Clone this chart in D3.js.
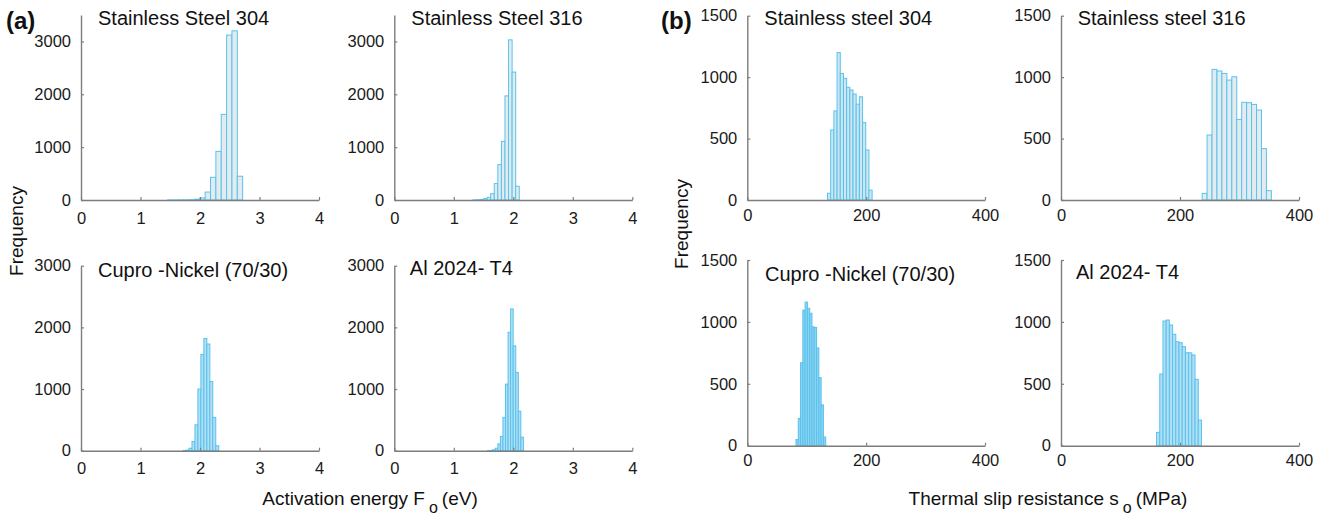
<!DOCTYPE html>
<html>
<head>
<meta charset="utf-8">
<script src="https://cdn.jsdelivr.net/npm/d3@7"></script>
<style>
  html, body { margin: 0; padding: 0; background: #fff; }
  svg { display: block; font-family: "Liberation Sans", Arial, Helvetica, sans-serif; }
</style>
</head>
<body>
<svg id="chart" width="1325" height="516"></svg>
<script>
// ---------------- DATA ----------------
const energyTicks = [0, 1, 2, 3, 4];
const slipTicks = [0, 200, 400];
const freqTicksEnergy = [0, 1000, 2000, 3000];
const freqTicksSlip = [0, 500, 1000, 1500];

const materials = ["Stainless Steel 304", "Stainless Steel 316", "Cupro -Nickel (70/30)", "Al 2024- T4"];
const materialsSlip = ["Stainless steel 304", "Stainless steel 316", "Cupro -Nickel (70/30)", "Al 2024- T4"];

// (a) Activation energy histograms (eV): first bin edge, bin width, counts
const ss304EnergyStart = 1.457, ss304EnergyWidth = 0.09;
const ss304EnergyCounts = [1, 1, 2, 3, 6, 15, 40, 150, 430, 920, 1620, 3120, 3200, 450];
const ss316EnergyStart = 1.32, ss316EnergyWidth = 0.06;
const ss316EnergyCounts = [2, 5, 10, 25, 50, 120, 310, 670, 1110, 1970, 3030, 2420, 260];
const cuniEnergyStart = 1.715, cuniEnergyWidth = 0.05;
const cuniEnergyCounts = [3, 10, 40, 150, 420, 1000, 1560, 1820, 1730, 1120, 540, 80];
const alEnergyStart = 1.568, alEnergyWidth = 0.043;
const alEnergyCounts = [2, 5, 15, 40, 110, 230, 540, 1080, 1920, 2300, 1700, 1270, 640, 220];

// (b) Thermal slip resistance histograms (MPa)
const ss304SlipStart = 135, ss304SlipWidth = 5.36;
const ss304SlipCounts = [55, 570, 725, 1200, 1030, 990, 917, 895, 862, 780, 840, 630, 407, 80];
const ss316SlipStart = 237.2, ss316SlipWidth = 8.31;
const ss316SlipCounts = [54, 529, 1063, 1050, 1030, 976, 1003, 656, 795, 792, 778, 732, 418, 76];
const cuniSlipStart = 81.9, cuniSlipWidth = 3.85;
const cuniSlipCounts = [50, 220, 670, 1095, 1160, 1110, 1070, 960, 955, 790, 550, 330, 70];
const alSlipStart = 160.6, alSlipWidth = 5.39;
const alSlipCounts = [108, 579, 1007, 1015, 975, 900, 840, 832, 800, 751, 750, 733, 536, 207];

// ---------------- LAYOUT ----------------
const svg = d3.select("#chart");
const STROKE = "#56c3ee";
const AXIS = "#7d7d7d";

const panels = [
  {title: materials[0], start: ss304EnergyStart, width: ss304EnergyWidth, counts: ss304EnergyCounts,
   x0: 81, x1: 319, yTop: 15, yBot: 200, xDom: [0, 4], yDom: [0, 3500], xt: energyTicks, yt: freqTicksEnergy,
   fill: "#e4ebef", tdx: 17, tby: 25, xpad: 12},
  {title: materials[1], start: ss316EnergyStart, width: ss316EnergyWidth, counts: ss316EnergyCounts,
   x0: 394.3, x1: 632.3, yTop: 15, yBot: 200, xDom: [0, 4], yDom: [0, 3500], xt: energyTicks, yt: freqTicksEnergy,
   fill: "#e4ebef", tdx: 17, tby: 25, xpad: 12},
  {title: materials[2], start: cuniEnergyStart, width: cuniEnergyWidth, counts: cuniEnergyCounts,
   x0: 81, x1: 319, yTop: 265.7, yBot: 450.7, xDom: [0, 4], yDom: [0, 3000], xt: energyTicks, yt: freqTicksEnergy,
   fill: "#b3def3", tdx: 17, tby: 277, xpad: 12},
  {title: materials[3], start: alEnergyStart, width: alEnergyWidth, counts: alEnergyCounts,
   x0: 394.3, x1: 632.3, yTop: 265.7, yBot: 450.7, xDom: [0, 4], yDom: [0, 3000], xt: energyTicks, yt: freqTicksEnergy,
   fill: "#b3def3", tdx: 15.5, tby: 275, xpad: 12},
  {title: materialsSlip[0], start: ss304SlipStart, width: ss304SlipWidth, counts: ss304SlipCounts,
   x0: 747.3, x1: 985, yTop: 15.7, yBot: 200, xDom: [0, 400], yDom: [0, 1500], xt: slipTicks, yt: freqTicksSlip,
   fill: "#cfe6f1", tdx: 17, tby: 25, xpad: 9},
  {title: materialsSlip[1], start: ss316SlipStart, width: ss316SlipWidth, counts: ss316SlipCounts,
   x0: 1061, x1: 1299, yTop: 15.7, yBot: 200, xDom: [0, 400], yDom: [0, 1500], xt: slipTicks, yt: freqTicksSlip,
   fill: "#e4ebef", tdx: 16.7, tby: 25, xpad: 9},
  {title: materialsSlip[2], start: cuniSlipStart, width: cuniSlipWidth, counts: cuniSlipCounts,
   x0: 747.3, x1: 985, yTop: 260, yBot: 445.7, xDom: [0, 400], yDom: [0, 1500], xt: slipTicks, yt: freqTicksSlip,
   fill: "#8fd2f1", tdx: 17.7, tby: 281, xpad: 9},
  {title: materialsSlip[3], start: alSlipStart, width: alSlipWidth, counts: alSlipCounts,
   x0: 1061, x1: 1299, yTop: 260, yBot: 445.7, xDom: [0, 400], yDom: [0, 1500], xt: slipTicks, yt: freqTicksSlip,
   fill: "#b3def3", tdx: 15, tby: 279, xpad: 9}
];

panels.forEach(p => {
  const x = d3.scaleLinear().domain(p.xDom).range([p.x0, p.x1]);
  const y = d3.scaleLinear().domain(p.yDom).range([p.yBot, p.yTop]);
  const g = svg.append("g");

  const bins = p.counts.map((c, i) => ({lo: p.start + i * p.width, hi: p.start + (i + 1) * p.width, c}));

  // bars
  g.append("g").selectAll("rect").data(bins).join("rect")
    .attr("x", d => x(d.lo))
    .attr("width", d => x(d.hi) - x(d.lo))
    .attr("y", d => y(d.c))
    .attr("height", d => y(0) - y(d.c))
    .attr("fill", p.fill)
    .attr("stroke", STROKE)
    .attr("stroke-width", 1);

  // axes
  const fmt = d => String(d);
  const yAxis = d3.axisLeft(y).tickValues(p.yt).tickFormat(fmt).tickSizeInner(-3).tickSizeOuter(0).tickPadding(10);
  const xAxis = d3.axisBottom(x).tickValues(p.xt).tickFormat(fmt).tickSizeInner(-3).tickSizeOuter(0).tickPadding(p.xpad);

  const gy = g.append("g").attr("transform", `translate(${p.x0},0)`).call(yAxis);
  const gx = g.append("g").attr("transform", `translate(0,${p.yBot})`).call(xAxis);
  [gx, gy].forEach(a => {
    a.select(".domain").attr("stroke", AXIS).attr("stroke-width", 1.4);
    a.selectAll(".tick line").attr("stroke", AXIS).attr("stroke-width", 1.2);
    a.selectAll(".tick text").attr("fill", "#1a1a1a").style("font-size", "16.5px")
      .style("font-family", '"Liberation Sans", Arial, sans-serif');
  });

  // title
  g.append("text")
    .attr("x", p.x0 + p.tdx).attr("y", p.tby)
    .attr("fill", "#111").style("font-size", "20px")
    .text(p.title);
});

// panel letters
svg.append("text").attr("x", 6).attr("y", 29).style("font-size", "24px").style("font-weight", "bold").attr("fill", "#111").text("(a)");
svg.append("text").attr("x", 661).attr("y", 29).style("font-size", "24px").style("font-weight", "bold").attr("fill", "#111").text("(b)");

// y labels
svg.append("text").attr("transform", "translate(22.5,231) rotate(-90)").attr("text-anchor", "middle")
  .style("font-size", "19px").attr("fill", "#111").text("Frequency");
svg.append("text").attr("transform", "translate(688,224) rotate(-90)").attr("text-anchor", "middle")
  .style("font-size", "19px").attr("fill", "#111").text("Frequency");

// x labels with subscript
function xlabel(cx, by, pre, sub, post) {
  const t = svg.append("text").attr("x", cx).attr("y", by).attr("text-anchor", "middle")
    .style("font-size", "19px").attr("fill", "#111");
  t.append("tspan").text(pre);
  t.append("tspan").attr("dx", 4).attr("dy", 8).style("font-size", "16px").text(sub);
  t.append("tspan").attr("dx", 4).attr("dy", -8).text(post);
}
xlabel(370, 505, "Activation energy F", "o", "(eV)");
xlabel(1048, 505, "Thermal slip resistance s", "o", "(MPa)");
</script>
</body>
</html>
